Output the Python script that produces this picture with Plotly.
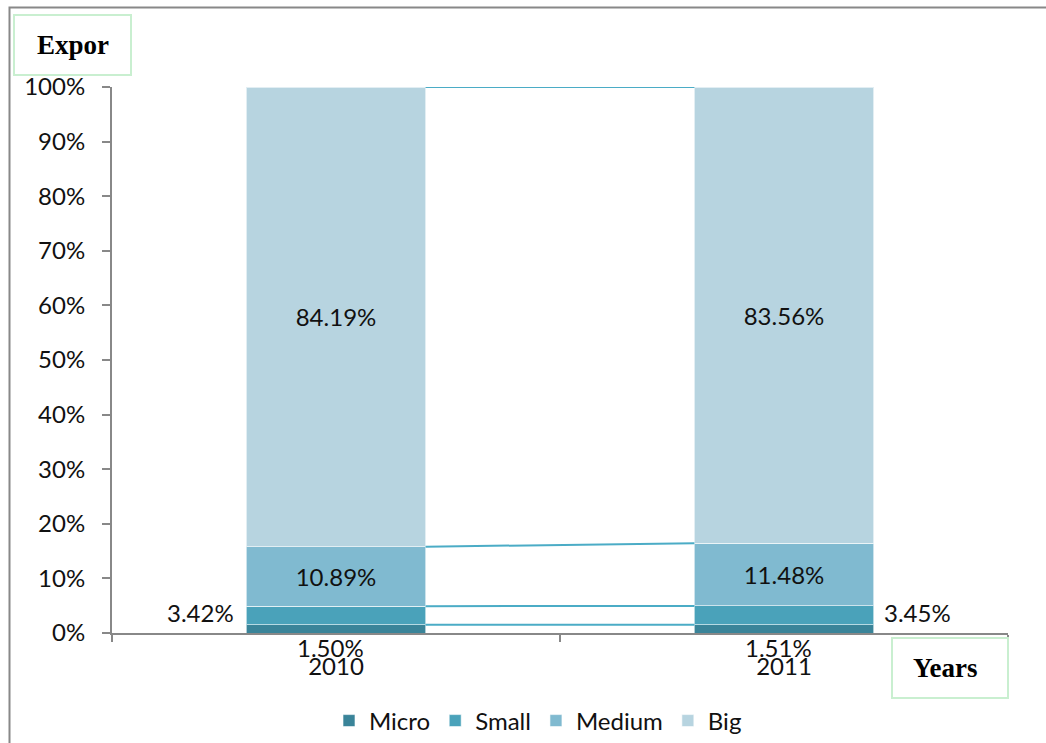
import plotly.graph_objects as go

years = ["2010", "2011"]
micro = [1.50, 1.51]
small = [3.42, 3.45]
medium = [10.89, 11.48]
big = [84.19, 83.56]
series_names = ["Micro", "Small", "Medium", "Big"]
series_values = [micro, small, medium, big]
colors = ["#3a8499", "#4aa2ba", "#80bad0", "#b7d4e0"]
y_ticks = [0, 10, 20, 30, 40, 50, 60, 70, 80, 90, 100]

W, H = 1046, 743
L, R, T, B = 112, 1008, 87, 633  # plot area in pixels

def px(x):
    return (x - L) / (R - L)

def py(y):
    return (B - y) / (B - T)

FONT = "Lato"
FS = 24

fig = go.Figure()
for name, vals, col in zip(series_names, series_values, colors):
    show_text = name in ("Medium", "Big")
    fig.add_trace(go.Bar(
        x=years, y=vals, name=name,
        marker=dict(color=col, line=dict(color="rgba(255,255,255,0.6)", width=1)),
        text=[f"{v:.2f}%" for v in vals] if show_text else None,
        textposition="inside" if show_text else "none",
        insidetextanchor="middle",
        textfont=dict(family=FONT, size=FS, color="#111111"),
        hoverinfo="skip",
    ))

# series lines connecting segment tops between bars
bw = 0.4
cum0 = 0.0
cum1 = 0.0
for vals in series_values:
    cum0 += vals[0]
    cum1 += vals[1]
    fig.add_shape(type="line", xref="x", yref="y",
                  x0=0 + bw / 2, x1=1 - bw / 2, y0=cum0, y1=cum1,
                  line=dict(color="#4bacc6", width=2))

annotations = []
# Small labels beside bars
for i, v in enumerate(small):
    ymid = micro[i] + v / 2
    annotations.append(dict(
        x=i - bw / 2 if i == 0 else i + bw / 2, y=ymid, xref="x", yref="y",
        text=f"{v:.2f}%", showarrow=False,
        xanchor="right" if i == 0 else "left",
        xshift=-10 if i == 0 else 8, yshift=3,
        font=dict(family=FONT, size=FS, color="#111111")))
# Micro labels below bars
for i, v in enumerate(micro):
    annotations.append(dict(
        x=i, y=v / 2, xref="x", yref="y", text=f"{v:.2f}%", showarrow=False,
        xanchor="center", yanchor="middle", xshift=-6, yshift=-19,
        font=dict(family=FONT, size=FS, color="#111111")))

# Axis title boxes
annotations.append(dict(x=(px(14) + px(131)) / 2, y=(py(15) + py(75)) / 2,
                        xref="paper", yref="paper", text="<b>Expor</b>", showarrow=False,
                        xanchor="center", yanchor="middle",
                        font=dict(family="Liberation Serif", size=27, color="#000000")))
annotations.append(dict(x=(px(892) + px(1008)) / 2, y=(py(638) + py(698)) / 2,
                        xref="paper", yref="paper", text="<b>Years</b>", showarrow=False,
                        xanchor="center", yanchor="middle", xshift=-5,
                        font=dict(family="Liberation Serif", size=27, color="#000000")))

shapes_extra = [
    dict(type="rect", xref="paper", yref="paper", x0=px(14), x1=px(131), y0=py(75), y1=py(15),
         line=dict(color="#c9efd0", width=2), fillcolor="rgba(0,0,0,0)"),
    dict(type="rect", xref="paper", yref="paper", x0=px(892), x1=px(1008), y0=py(698), y1=py(638),
         line=dict(color="#c9efd0", width=2), fillcolor="rgba(0,0,0,0)"),
    dict(type="rect", xref="paper", yref="paper", x0=px(9.5), x1=px(1070), y0=py(780), y1=py(7.5),
         line=dict(color="#888888", width=2), fillcolor="rgba(0,0,0,0)", layer="below"),
]
for s in shapes_extra:
    fig.add_shape(**s)

fig.update_layout(
    width=W, height=H,
    margin=dict(l=L, r=W - R, t=T, b=H - B, pad=0, autoexpand=False),
    barmode="stack", bargap=0.6,
    paper_bgcolor="white", plot_bgcolor="white",
    font=dict(family=FONT, size=FS, color="#111111"),
    annotations=annotations,
    showlegend=True,
    legend=dict(orientation="h", x=px(538), xanchor="center", y=py(721), yanchor="middle",
                font=dict(family=FONT, size=FS, color="#111111"),
                itemwidth=30, traceorder="normal", bgcolor="rgba(0,0,0,0)"),
    uniformtext=dict(mode=False),
)
fig.update_xaxes(
    type="category", showline=True, linecolor="#888888", linewidth=2,
    ticks="outside", tickson="boundaries", ticklen=7, tickcolor="#888888", tickwidth=2,
    showgrid=False, zeroline=False, ticklabelstandoff=11,
    tickfont=dict(family=FONT, size=FS, color="#111111"),
)
fig.update_yaxes(
    range=[0, 100], tickvals=y_ticks, ticktext=[f"{v}%" for v in y_ticks],
    showline=True, linecolor="#888888", linewidth=2,
    ticks="outside", ticklen=8, tickcolor="#888888", tickwidth=2,
    showgrid=False, zeroline=False, ticklabelstandoff=12,
    tickfont=dict(family=FONT, size=FS, color="#111111"),
)

fig.write_html("out.html")
